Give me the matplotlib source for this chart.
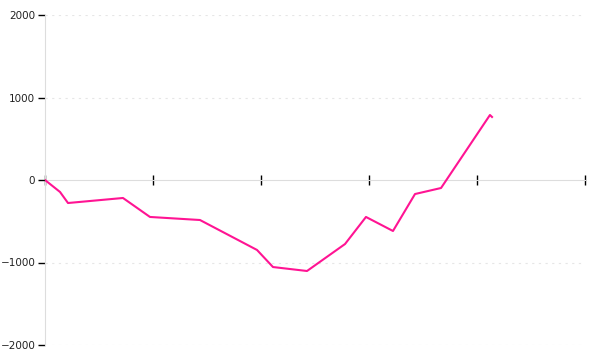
import matplotlib
matplotlib.use("Agg")
import matplotlib.pyplot as plt

# values (x in tick units, y in data units)
x_vals = [0, 0.139, 0.213, 0.722, 0.972, 1.435, 1.963, 2.111, 2.426,
          2.778, 2.972, 3.222, 3.426, 3.667, 4.120, 4.139]
y_vals = [0, -145, -279, -218, -448, -485, -848, -1055, -1103,
          -776, -448, -618, -170, -97, 788, 764]
x_ticks = [0, 1, 2, 3, 4, 5]
y_ticks = [-2000, -1000, 0, 1000, 2000]

fig = plt.figure(figsize=(6, 3.6), dpi=100)
ax = fig.add_axes([45 / 600, 15 / 360, 540 / 600, 330 / 360])

ax.plot(x_vals, y_vals, color="#ff1493", linewidth=1.5, zorder=5)

ax.set_xlim(0, 5)
ax.set_ylim(-2000, 2000)
ax.set_xticks(x_ticks)
ax.set_xticklabels([])
ax.set_yticks(y_ticks)
ax.set_yticklabels([str(v).replace("-", "\u2212") for v in y_ticks],
                   fontsize=7.5, color="#222")

ax.spines["top"].set_visible(False)
ax.spines["right"].set_visible(False)
ax.spines["left"].set_color("#dddddd")
ax.spines["bottom"].set_position(("data", 0))
ax.spines["bottom"].set_color("#dddddd")

ax.tick_params(axis="y", direction="out", length=5, width=1, color="black", pad=2)
ax.tick_params(axis="x", direction="inout", length=7, width=1, color="black")

for v in y_ticks:
    if v != 0:
        ax.axhline(v, color="#e6e6e6", linewidth=0.8, linestyle=(0, (2, 4)), zorder=0)

fig.savefig("out.png", dpi=100)
